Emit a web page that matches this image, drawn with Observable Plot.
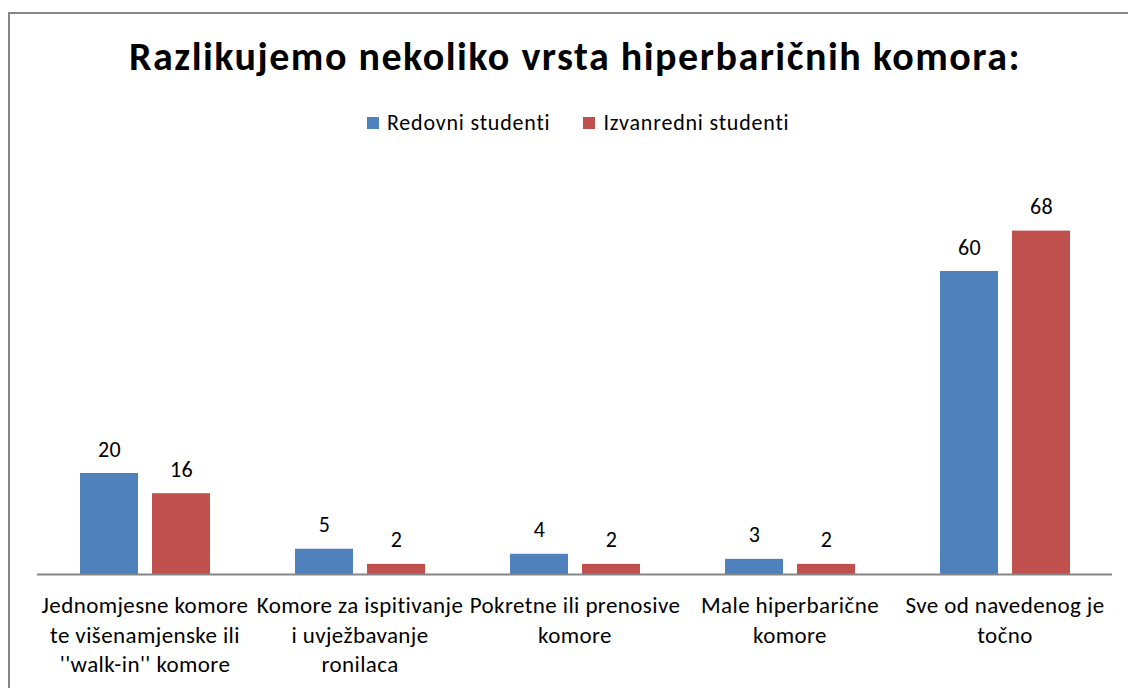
<!DOCTYPE html>
<html>
<head>
<meta charset="utf-8">
<script src="https://cdn.jsdelivr.net/npm/d3@7"></script>
<script src="https://cdn.jsdelivr.net/npm/@observablehq/plot@0.6"></script>
<style>
  html, body { margin: 0; padding: 0; background: #fff; overflow: hidden; }
  #wrap { position: relative; width: 1128px; height: 688px; overflow: hidden; font-family: Carlito, Lato, sans-serif; color: #000; }
  #frame { position: absolute; left: 8px; top: 12px; width: 1200px; height: 800px; border-left: 2px solid #868686; border-top: 2px solid #868686; }
  #title { position: absolute; left: 75px; width: 1000px; top: 33px; text-align: center; font-weight: bold; font-size: 40px; letter-spacing: 1.5px; line-height: 48px; white-space: nowrap; }
  #legend { position: absolute; left: 367px; top: 110px; display: flex; align-items: center; font-size: 22px; letter-spacing: 0.8px; line-height: 26px; white-space: nowrap; }
  .sw { width: 12px; height: 12px; display: inline-block; margin-right: 8px; }
  .item { display: flex; align-items: center; margin-right: 33px; }
  #chart { position: absolute; left: 0; top: 150px; }
</style>
</head>
<body>
<div id="wrap">
  <div id="frame"></div>
  <div id="title"></div>
  <div id="legend"></div>
  <div id="chart"></div>
</div>
<script>
const titleText = "Razlikujemo nekoliko vrsta hiperbaričnih komora:";
const categories = [
  "Jednomjesne komore\nte višenamjenske ili\n''walk-in'' komore",
  "Komore za ispitivanje\ni uvježbavanje\nronilaca",
  "Pokretne ili prenosive\nkomore",
  "Male hiperbarične\nkomore",
  "Sve od navedenog je\ntočno"
];
const series = ["Redovni studenti", "Izvanredni studenti"];
const colors = ["#4F81BD", "#C0504D"];
const redovni = [20, 5, 4, 3, 60];
const izvanredni = [16, 2, 2, 2, 68];

const values = [redovni, izvanredni];
const data = [];
categories.forEach((c, i) => {
  series.forEach((s, j) => data.push({category: c, series: s, value: values[j][i]}));
});

document.getElementById("title").textContent = titleText;
const legend = document.getElementById("legend");
series.forEach((s, j) => {
  const it = document.createElement("div");
  it.className = "item";
  const sw = document.createElement("span");
  sw.className = "sw";
  sw.style.background = colors[j];
  const t = document.createElement("span");
  t.textContent = s;
  it.appendChild(sw); it.appendChild(t);
  legend.appendChild(it);
});

const chart = Plot.plot({
  width: 1128,
  height: 538,
  marginLeft: 35,
  marginRight: 14,
  marginTop: 20,
  marginBottom: 114,
  style: {fontFamily: "Carlito, Lato, sans-serif", fontSize: "23px", letterSpacing: "0.4px", color: "#000", background: "transparent"},
  fx: {domain: categories, padding: 0, label: null, axis: null},
  x: {domain: series, paddingInner: 0.2, paddingOuter: 0.58, axis: null},
  y: {domain: [0, 80], axis: null},
  color: {domain: series, range: colors},
  marks: [
    Plot.barY(data, {fx: "category", x: "series", y: "value", fill: "series"}),
    Plot.text(data, {fx: "category", x: "series", y: "value", text: d => String(d.value), dy: -24, fontSize: 22, fill: "#000"}),
    Plot.ruleY([0], {stroke: "#868686", strokeWidth: 2}),
    Plot.axisFx({anchor: "bottom", tickSize: 0, tickPadding: 18, lineHeight: 1.28, fontSize: 23, label: null, fill: "#000"})
  ]
});
document.getElementById("chart").appendChild(chart);
</script>
</body>
</html>
